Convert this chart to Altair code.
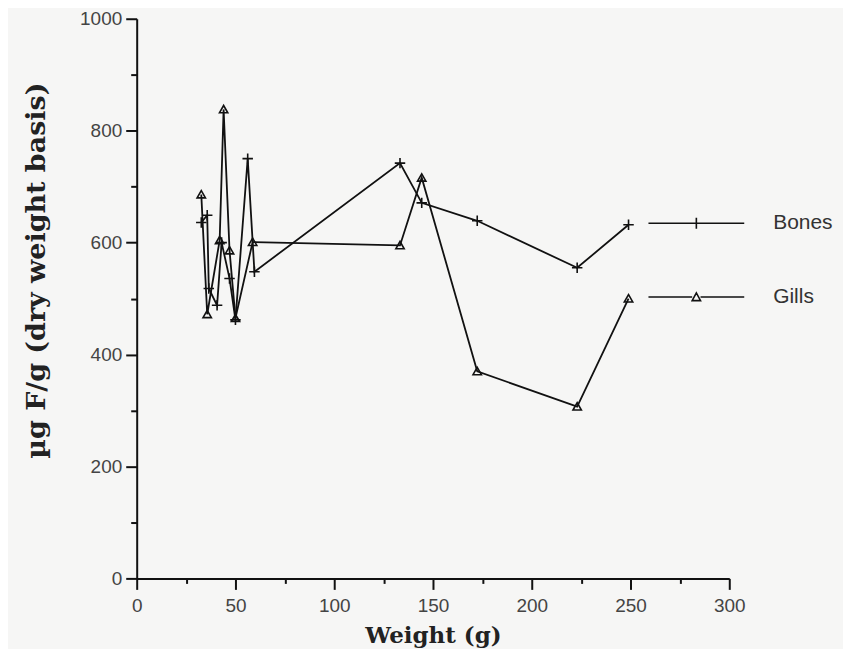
import altair as alt
import pandas as pd

# Data
bones_weight = [32.7, 35.7, 36.5, 40.7, 43.0, 47.0, 50.0, 56.2, 59.6, 133.3, 144.3, 172.4, 223.0, 249.0]
bones_fluoride = [636, 649, 518, 488, 600, 536, 462, 750, 548, 742, 671, 639, 555, 632]

gills_weight = [32.7, 35.7, 42.0, 44.0, 47.0, 50.0, 58.7, 133.3, 144.3, 172.4, 223.0, 249.0]
gills_fluoride = [686, 472, 604, 838, 586, 465, 601, 595, 716, 370, 307, 500]

series_names = ["Bones", "Gills"]

rows = []
for i, (w, v) in enumerate(zip(bones_weight, bones_fluoride)):
    rows.append({"series": "Bones", "weight": w, "value": v, "idx": i})
for i, (w, v) in enumerate(zip(gills_weight, gills_fluoride)):
    rows.append({"series": "Gills", "weight": w, "value": v, "idx": i})
df = pd.DataFrame(rows)

plus_path = "M-1,0H1M0,-1V1"
tri_path = "M-0.8,0.65L0,-0.75L0.8,0.65Z"
legend_bones = "M-4,0H4M0,-0.45V0.45"
legend_gills = "M-4,0H-0.35M0.35,0H4M-0.35,0.3L0,-0.35L0.35,0.3Z"

x_enc = alt.X(
    "weight:Q",
    scale=alt.Scale(domain=[0, 300], nice=False),
    axis=alt.Axis(
        values=list(range(0, 301, 25)),
        labelExpr="datum.value % 50 === 0 ? datum.label : ''",
        labelFlush=False,
        tickSize={"condition": {"test": "datum.value % 50 === 0", "value": 11}, "value": 5},
        title="Weight (g)",
        titleFont="DejaVu Serif",
        titleFontWeight="bold",
        titleFontSize=23,
        titleColor="#222",
        titlePadding=9,
        labelFont="Liberation Sans",
        labelFontSize=19,
        labelColor="#444",
        labelPadding=7,
        domainColor="#111",
        domainWidth=2,
        tickColor="#111",
        tickWidth=2,
        grid=False,
    ),
)
y_enc = alt.Y(
    "value:Q",
    scale=alt.Scale(domain=[0, 1000], nice=False),
    axis=alt.Axis(
        values=list(range(0, 1001, 100)),
        format="d",
        labelExpr="datum.value % 200 === 0 ? datum.label : ''",
        labelFlush=False,
        tickSize={"condition": {"test": "datum.value % 200 === 0", "value": 11}, "value": 6},
        title="µg F/g (dry weight basis)",
        titleFont="DejaVu Serif",
        titleFontWeight="bold",
        titleFontSize=27,
        titleColor="#222",
        titleX=-100,
        titleY=252,
        titleAngle=270,
        titleBaseline="middle",
        titleAlign="center",
        labelFont="Liberation Sans",
        labelFontSize=19,
        labelColor="#444",
        labelPadding=4,
        domainColor="#111",
        domainWidth=2,
        tickColor="#111",
        tickWidth=2,
        grid=False,
    ),
)

lines = alt.Chart(df).mark_line(color="#111", strokeWidth=1.8).encode(
    x=x_enc, y=y_enc, detail="series:N", order="idx:Q"
)

points = alt.Chart(df).mark_point(filled=False, color="#111", strokeWidth=1.6, opacity=1).encode(
    x="weight:Q",
    y="value:Q",
    shape=alt.Shape(
        "series:N",
        scale=alt.Scale(domain=series_names, range=[plus_path, tri_path]),
        legend=None,
    ),
    size=alt.value(110),
)

legend_layer = alt.Chart(df).mark_point(filled=False, opacity=0).encode(
    x="weight:Q",
    y="value:Q",
    shape=alt.Shape(
        "series:N",
        scale=alt.Scale(domain=series_names, range=[legend_bones, legend_gills]),
        legend=alt.Legend(
            title=None,
            orient="none",
            legendX=548,
            legendY=192,
            padding=0,
            symbolSize=576,
            symbolStrokeColor="#111",
            symbolStrokeWidth=1.6,
            symbolFillColor="transparent",
            symbolOpacity=1,
            labelOffset=64,
            labelFont="Liberation Sans",
            labelFontSize=21,
            labelColor="#333",
            rowPadding=51,
        ),
    ),
)

chart = (
    alt.layer(lines, points, legend_layer)
    .resolve_scale(shape="independent")
    .properties(
        width=594,
        height=561,
        padding={"left": 129, "top": 10, "right": 114, "bottom": 70},
        autosize="none",
        background="#f6f6f5",
    )
    .configure_view(stroke=None)
)

chart.save("out.html", embed_options={"renderer": "svg", "actions": False})
